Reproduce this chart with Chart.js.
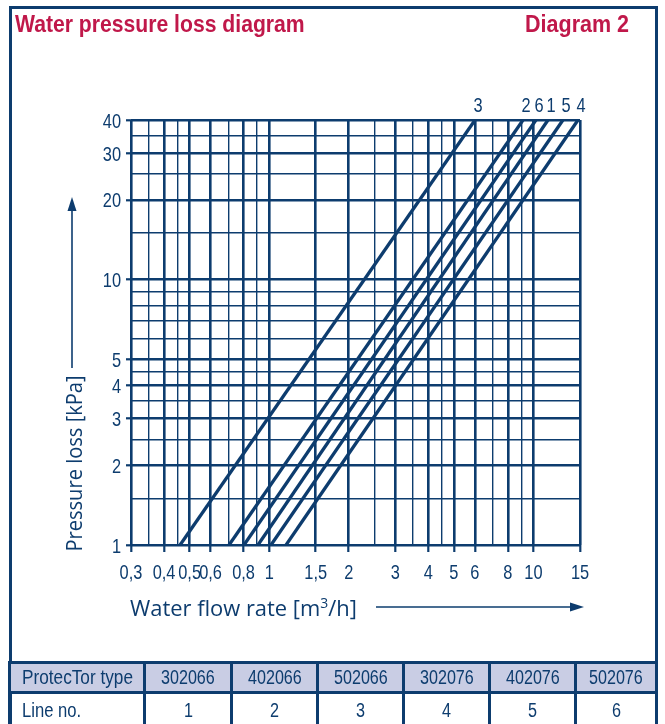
<!DOCTYPE html>
<html><head><meta charset="utf-8">
<script src="https://cdn.jsdelivr.net/npm/chart.js@4.4.0/dist/chart.umd.min.js"></script>
<style>
body{margin:0;background:#fff;}
#wrap{position:relative;width:665px;height:724px;overflow:hidden;background:#fff;}
#frame{position:absolute;left:9px;top:6px;width:649px;height:740px;border:3px solid #0d3c6e;box-sizing:border-box;}
.t{position:absolute;white-space:nowrap;transform-origin:0 50%;}
#c{position:absolute;left:0;top:0;}
.ln{position:absolute;background:#0d3c6e;}
</style></head>
<body><div id="wrap">
<div id="frame"></div>
<canvas id="c" width="665" height="724"></canvas>
<svg style="position:absolute;left:0;top:0" width="665" height="724">
<line x1="72" y1="368" x2="72" y2="206" stroke="#0d3c6e" stroke-width="1.6"/>
<polygon points="72,197 67.5,211 76.5,211" fill="#0d3c6e"/>
<line x1="376" y1="607" x2="572" y2="607" stroke="#0d3c6e" stroke-width="1.6"/>
<polygon points="584,607 570,602.5 570,611.5" fill="#0d3c6e"/>
</svg>
<div id="tbl"></div>
</div>
<script>
// ---- data ----
const lineNames   = ['1', '2', '3', '4', '5', '6'];
const flowAt1kPa  = [0.907, 0.705, 0.460, 1.158, 1.016, 0.803];
const flowAt40kPa = [11.35, 9.13, 6.01, 14.74, 12.93, 10.22];
const pressureEnds = [1, 40];
const xTickValues = [0.3,0.35,0.4,0.45,0.5,0.6,0.7,0.8,0.9,1,1.5,2,2.5,3,3.5,4,4.5,5,6,7,8,9,10,15];
const xTickLabels = ['0,3','','0,4','','0,5','0,6','','0,8','','1','1,5','2','','3','','4','','5','6','','8','','10','15'];
const yTickValues = [1,1.5,2,2.5,3,3.5,4,4.5,5,6,7,8,9,10,15,20,25,30,35,40];
const yTickLabels = ['1','','2','','3','','4','','5','','','','','10','','20','','30','','40'];
const productTypes = ['302066','402066','502066','302076','402076','502076'];
const lineNumbers  = ['1','2','3','4','5','6'];

const NAVY = '#0d3c6e', RED = '#c0184a';
const SANS = '"Liberation Sans", Arial, sans-serif';
const wrap = document.getElementById('wrap');

function addText(str, opts){
  const d = document.createElement('div'); d.className='t'; d.textContent = str;
  d.style.font = opts.font; d.style.color = opts.color || NAVY; d.style.lineHeight = '1';
  wrap.appendChild(d);
  const natW = d.offsetWidth;
  const s = opts.w ? opts.w / natW : (opts.s || 1);
  const w = natW * s;
  let left = opts.left;
  if (opts.right !== undefined) left = opts.right - w;
  if (opts.cx !== undefined) left = opts.cx - w/2;
  d.style.left = left + 'px';
  d.style.top = (opts.top) + 'px';
  d.style.transform = 'scaleX(' + s + ')';
  return d;
}
addText('Water pressure loss diagram', {font:'bold 24px ' + SANS, color:RED, left:15, top:12, w:290});
addText('Diagram 2', {font:'bold 24px ' + SANS, color:RED, right:629, top:12, w:104});

(function(){
  const d = document.createElement('div'); d.className='t';
  d.innerHTML = 'Water flow rate [m<span style="font-size:14px;position:relative;top:-8px">3</span>/h]';
  d.style.font = '22px "Open Sans", sans-serif'; d.style.color = NAVY; d.style.lineHeight='1';
  wrap.appendChild(d);
  const s = 227 / d.offsetWidth;
  d.style.left = '130px'; d.style.top = '596px'; d.style.transform = 'scaleX(' + s + ')';
})();
(function(){
  const d = document.createElement('div'); d.className='t'; d.textContent = 'Pressure loss [kPa]';
  d.style.font = '21px "Open Sans", sans-serif'; d.style.color = NAVY; d.style.lineHeight='1';
  wrap.appendChild(d);
  const w = d.offsetWidth, h = d.offsetHeight, s = 176 / w;
  d.style.transformOrigin = '50% 50%';
  d.style.left = (74 - w/2) + 'px'; d.style.top = (463 - h/2) + 'px';
  d.style.transform = 'rotate(-90deg) scaleX(' + s + ')';
})();

// ---- table ----
(function(){
  const colX = [9.5, 144.5, 231.5, 317.5, 403.5, 489.5, 575.5, 656.5];
  const rowY = [662.5, 692.5, 740];
  const bg = document.createElement('div'); bg.style.cssText = 'position:absolute;background:#c9cde4;';
  bg.style.left = colX[0]+'px'; bg.style.top = rowY[0]+'px'; bg.style.width=(colX[7]-colX[0])+'px'; bg.style.height=(rowY[1]-rowY[0])+'px';
  wrap.appendChild(bg);
  rowY.slice(0,2).forEach(y=>{ const l=document.createElement('div'); l.className='ln';
    l.style.left=(colX[0]-1.5)+'px'; l.style.top=(y-1.5)+'px'; l.style.width=(colX[7]-colX[0]+3)+'px'; l.style.height='3px'; wrap.appendChild(l); });
  colX.forEach(x=>{ const l=document.createElement('div'); l.className='ln';
    l.style.left=(x-1.5)+'px'; l.style.top=(rowY[0]-1.5)+'px'; l.style.width='3px'; l.style.height='100px'; wrap.appendChild(l); });
  const F = '20px ' + SANS;
  addText('ProtecTor type', {font:F, left:21.5, top:667, w:111});
  addText('Line no.', {font:F, left:21.5, top:699.5, w:59});
  productTypes.forEach((t,i)=> addText(t, {font:F, cx:(colX[i+1]+colX[i+2])/2, top:667, w:54}));
  lineNumbers.forEach((t,i)=> addText(t, {font:F, cx:(colX[i+1]+colX[i+2])/2, top:699.5, s:0.81}));
})();

// ---- chart ----
const datasets = lineNames.map((n,i)=>({
  label: n,
  data: [{x: flowAt1kPa[i], y: pressureEnds[0]}, {x: flowAt40kPa[i], y: pressureEnds[1]}],
  showLine: true, borderColor: NAVY, borderWidth: 3.3, pointRadius: 0, fill: false
}));
function lblFor(values, labels, v){ const i = values.findIndex(t=>Math.abs(t-v)<1e-9); return i<0?'':labels[i]; }
function drawScaled(ctx, txt, x, y, sx){ ctx.save(); ctx.translate(x,y); ctx.scale(sx,1); ctx.fillText(txt,0,0); ctx.restore(); }
const SX = 0.78;
const labelsPlugin = {
  id:'labelsPlugin',
  afterDraw(chart){
    const ctx = chart.ctx, xs = chart.scales.x, ys = chart.scales.y;
    ctx.save();
    ctx.font = '21px ' + SANS; ctx.fillStyle = NAVY; ctx.textBaseline = 'alphabetic';
    ctx.textAlign = 'center';
    xTickValues.forEach((v,i)=>{ if(xTickLabels[i]) drawScaled(ctx, xTickLabels[i], xs.getPixelForValue(v), xs.top + 34, SX); });
    ctx.textAlign = 'right';
    yTickValues.forEach((v,i)=>{ if(yTickLabels[i]) drawScaled(ctx, yTickLabels[i], ys.right - 10, ys.getPixelForValue(v) + 7.5, SX); });
    ctx.textAlign = 'center';
    chart.data.datasets.forEach((ds,i)=>{
      const pts = chart.getDatasetMeta(i).data; const p = pts[pts.length-1];
      drawScaled(ctx, ds.label, p.x + 3, p.y - 8, SX);
    });
    ctx.restore();
  }
};
new Chart(document.getElementById('c'), {
  type: 'scatter',
  data: { datasets },
  options: {
    responsive: false, animation: false, devicePixelRatio: 1,
    layout: { padding: { left: 100, top: 120, right: 85, bottom: 149 } },
    plugins: { legend: { display: false }, tooltip: { enabled: false } },
    scales: {
      x: {
        type: 'logarithmic', min: 0.3, max: 15,
        afterBuildTicks: s => { s.ticks = xTickValues.map(v=>({value:v})); },
        afterFit: s => { s.height = 30; },
        border: { display: false },
        grid: {
          color: NAVY, tickLength: 7,
          lineWidth: c => lblFor(xTickValues,xTickLabels,c.tick.value) ? 2.6 : 1.4,
          tickColor: c => lblFor(xTickValues,xTickLabels,c.tick.value) ? NAVY : 'rgba(0,0,0,0)',
          tickWidth: 2.2
        },
        ticks: { display: false, autoSkip: false, maxRotation: 0 }
      },
      y: {
        type: 'logarithmic', min: 1, max: 40,
        afterBuildTicks: s => { s.ticks = yTickValues.map(v=>({value:v})); },
        afterFit: s => { s.width = 31; },
        border: { display: false },
        grid: {
          color: NAVY, tickLength: 5,
          lineWidth: c => lblFor(yTickValues,yTickLabels,c.tick.value) ? 2.6 : 1.4,
          tickColor: c => lblFor(yTickValues,yTickLabels,c.tick.value) ? NAVY : 'rgba(0,0,0,0)',
          tickWidth: 2.2
        },
        ticks: { display: false, autoSkip: false }
      }
    }
  },
  plugins: [labelsPlugin]
});
</script>
</body></html>
